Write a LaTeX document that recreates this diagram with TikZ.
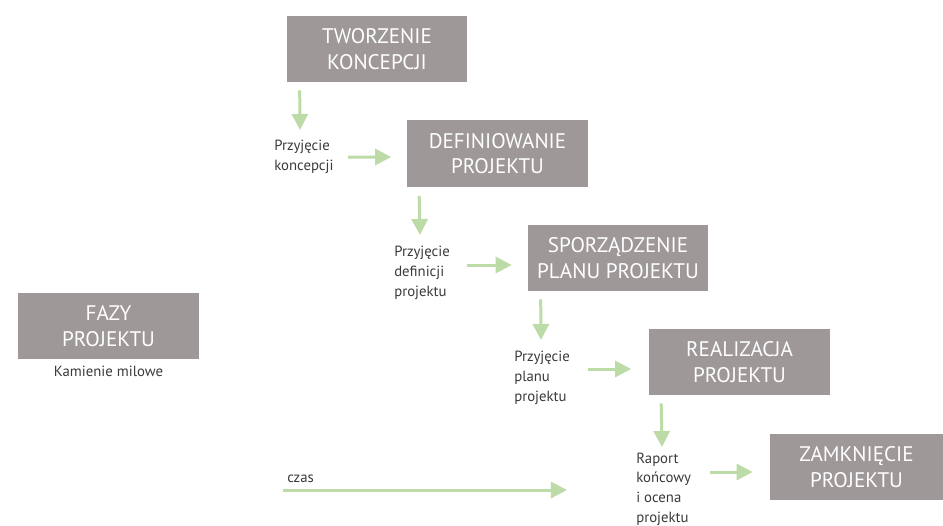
\documentclass[tikz,border=0pt]{standalone}
\usepackage{fontspec}
\setmainfont{PT Sans}
\usepackage{xcolor}
\usepackage{tikz}
\usetikzlibrary{positioning, calc, arrows.meta}

\definecolor{fazagrey}{HTML}{9E9898}
\definecolor{strzalka}{HTML}{BDDBA6}
\definecolor{tekst}{HTML}{3A3A3A}

\begin{document}
\begin{tikzpicture}[
        x=0.025cm, y=-0.025cm,
        fazabox/.style={fill=fazagrey, text=white, minimum height=1.65cm, minimum width=4.5cm,
            align=center, inner sep=0pt, font=\fontsize{15}{18}\selectfont},
        lbl/.style={text=tekst, align=left, inner sep=0pt, font=\fontsize{10.5}{14}\selectfont},
        arrow/.style={-{Triangle[length=0.4cm, width=0.4cm]}, draw=strzalka, fill=strzalka, line width=0.075cm}
    ]
    \useasboundingbox (0,0) rectangle (943,526);

    % Main nodes
    \node[fazabox] (tworzenie) at (377,49) {TWORZENIE\\KONCEPCJI};
    \node[fazabox] (definiowanie) at (497.5,153.5) {DEFINIOWANIE\\PROJEKTU};
    \node[fazabox] (plan) at (618,258) {SPORZĄDZENIE\\PLANU PROJEKTU};
    \node[fazabox] (realizacja) at (739.5,362) {REALIZACJA\\PROJEKTU};
    \node[fazabox, minimum width=4.325cm] (zamkniecie) at (856.5,467) {ZAMKNIĘCIE\\PROJEKTU};
    \node[fazabox] (fazy) at (108.5,326) {FAZY\\PROJEKTU};
    \node[lbl, below=0.17cm of fazy] (milowe) {Kamienie milowe};

    % Milestones
    \node[lbl, anchor=west] (m1) at (274,157) {Przyjęcie\\koncepcji};
    \node[lbl, anchor=west] (m2) at (394,273) {Przyjęcie\\definicji\\projektu};
    \node[lbl, anchor=west] (m3) at (514,378) {Przyjęcie\\planu\\projektu};
    \node[lbl, anchor=west] (m4) at (636,489) {Raport\\końcowy\\i ocena\\projektu};

    % Phase -> milestone
    \draw[arrow] ($(tworzenie.south west)+(13,8)$) -- ($(m1.west)+(26,-27)$);
    \draw[arrow] ($(definiowanie.south west)+(12,9)$) -- ($(m2.west)+(26,-38)$);
    \draw[arrow] ($(plan.south west)+(13,8)$) -- ($(m3.west)+(27,-38)$);
    \draw[arrow] ($(realizacja.south west)+(12,8)$) -- ($(m4.west)+(26,-42)$);

    % Milestone -> next phase
    \draw[arrow] ($(m1.west)+(74,0)$) -- ($(definiowanie.west)+(-16,3.5)$);
    \draw[arrow] ($(m2.west)+(73,-8)$) -- ($(plan.west)+(-16,7)$);
    \draw[arrow] ($(m3.west)+(74,-9)$) -- ($(realizacja.west)+(-18,7)$);
    \draw[arrow] ($(m4.west)+(74,-17)$) -- ($(zamkniecie.west)+(-17,5)$);

    % Time axis
    \coordinate (czas start) at (283,490);
    \coordinate (czas end) at (567,490);
    \node[lbl, anchor=west] (czas) at (287,479) {czas};
    \draw[arrow] (czas start) -- (czas end);

\end{tikzpicture}
\end{document}
